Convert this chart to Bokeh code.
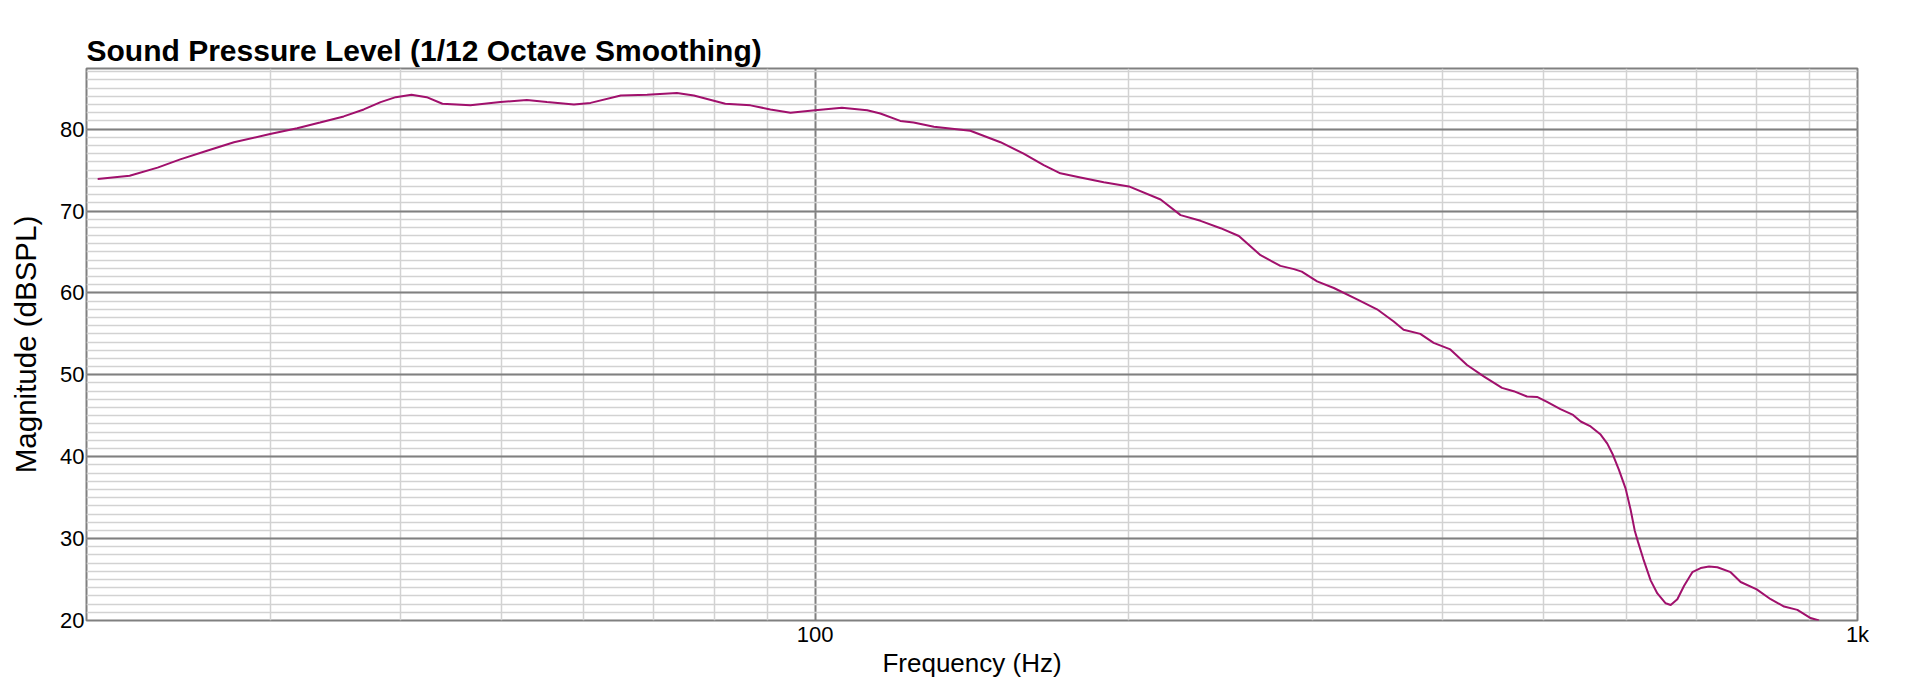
from bokeh.plotting import figure
from bokeh.models import FixedTicker, CustomJSTickFormatter, Range1d
from bokeh.embed import file_html
from bokeh.resources import INLINE

# Frequency (Hz) and magnitude (dBSPL)
freq_hz = [20.5, 22.0, 23.4, 24.6, 26.1, 27.7, 30.0, 31.85, 33.5, 35.3, 36.9, 38.3, 39.6, 41.0,
           42.4, 43.9, 46.7, 49.9, 52.9, 55.3, 58.7, 60.9, 65.1, 69.0, 73.7, 76.5, 82.0, 86.7,
           90.6, 94.7, 100.0, 106.1, 112.2, 115.5, 120.7, 124.3, 130.0, 140.9, 150.6, 158.5,
           165.7, 171.9, 179.7, 189.2, 200.0, 214.5, 224.2, 234.3, 244.9, 255.0, 267.5, 279.5,
           288.0, 293.0, 303.1, 314.5, 331.1, 346.0, 359.0, 366.9, 380.7, 392.1, 406.8, 422.1,
           437.9, 456.0, 467.9, 481.9, 492.7, 503.7, 518.8, 533.5, 542.6, 554.6, 567.0, 575.4,
           581.8, 590.4, 599.2, 605.9, 611.3, 615.8, 623.1, 633.2, 642.7, 654.6, 661.9, 671.7,
           681.8, 694.3, 707.2, 720.4, 733.8, 755.6, 772.5, 800.4, 825.5, 850.3, 875.6, 901.6,
           918.5]
spl_db = [73.9, 74.3, 75.3, 76.3, 77.35, 78.4, 79.4, 80.1, 80.8, 81.55, 82.4, 83.3, 83.9, 84.2,
          83.9, 83.1, 82.9, 83.3, 83.55, 83.3, 83.0, 83.2, 84.1, 84.2, 84.4, 84.1, 83.1, 82.9,
          82.4, 82.0, 82.3, 82.6, 82.3, 81.9, 81.0, 80.8, 80.3, 79.8, 78.4, 77.0,
          75.6, 74.6, 74.1, 73.5, 73.0, 71.4, 69.5, 68.8, 67.9, 66.95, 64.6, 63.3,
          62.9, 62.6, 61.4, 60.6, 59.2, 58.0, 56.5, 55.5, 55.0, 53.9, 53.1, 51.2,
          49.8, 48.4, 48.0, 47.35, 47.3, 46.7, 45.8, 45.1, 44.3, 43.7, 42.7, 41.6,
          40.4, 38.4, 36.1, 33.5, 31.0, 29.6, 27.5, 24.9, 23.3, 22.1, 21.9, 22.6,
          24.25, 25.9, 26.4, 26.6, 26.5, 25.9, 24.7, 23.8, 22.6, 21.7, 21.3, 20.3,
          20.0]

x_major_ticks = [100, 1000]
x_minor_ticks = [20, 30, 40, 50, 60, 70, 80, 90, 200, 300, 400, 500, 600, 700, 800, 900]
y_major_ticks = [20, 30, 40, 50, 60, 70, 80]
y_minor_ticks = list(range(20, 88))

FONT = "Liberation Sans"

p = figure(width=1920, height=693, x_axis_type="log",
           x_range=Range1d(20, 1000), y_range=Range1d(20, 87.4),
           output_backend="svg", toolbar_location=None,
           min_border_left=86, min_border_right=63, min_border_top=68, min_border_bottom=73,
           title="Sound Pressure Level (1/12 Octave Smoothing)")

p.title.text_font = FONT
p.title.text_font_size = "30px"
p.title.text_font_style = "bold"
p.title.text_color = "#000000"
p.title.align = "left"
p.title.offset = 0
p.title.standoff = 3

p.xaxis.ticker = FixedTicker(ticks=x_major_ticks, minor_ticks=x_minor_ticks)
p.yaxis.ticker = FixedTicker(ticks=y_major_ticks, minor_ticks=y_minor_ticks)
p.xaxis.formatter = CustomJSTickFormatter(code="return tick >= 1000 ? (tick/1000) + 'k' : tick.toFixed(0);")

for ax in (p.xaxis, p.yaxis):
    ax.axis_line_color = None
    ax.major_tick_line_color = None
    ax.minor_tick_line_color = None
    ax.major_tick_out = 0
    ax.major_tick_in = 0
    ax.minor_tick_out = 0
    ax.minor_tick_in = 0
    ax.major_label_text_font = FONT
    ax.major_label_text_font_size = "22px"
    ax.major_label_text_color = "#000000"
    ax.axis_label_text_font = FONT
    ax.axis_label_text_font_style = "normal"
    ax.axis_label_text_color = "#000000"

p.xaxis.axis_label = "Frequency (Hz)"
p.yaxis.axis_label = "Magnitude (dBSPL)"
p.xaxis.axis_label_text_font_size = "26px"
p.yaxis.axis_label_text_font_size = "29.5px"
p.xaxis.major_label_standoff = 1
p.yaxis.major_label_standoff = 2
p.xaxis.axis_label_standoff = -2
p.yaxis.axis_label_standoff = 15
p.yaxis.major_label_orientation = "horizontal"

for g in (p.xgrid, p.ygrid):
    g.grid_line_color = "#808080"
    g.grid_line_width = 2
    g.minor_grid_line_color = "#d2d2d2"
    g.minor_grid_line_width = 1.5

p.outline_line_color = "#808080"
p.outline_line_width = 2
p.background_fill_color = "#ffffff"
p.border_fill_color = "#ffffff"

p.line(freq_hz, spl_db, line_color="#A0106C", line_width=2)

open("out.html", "w").write(file_html(p, INLINE))
